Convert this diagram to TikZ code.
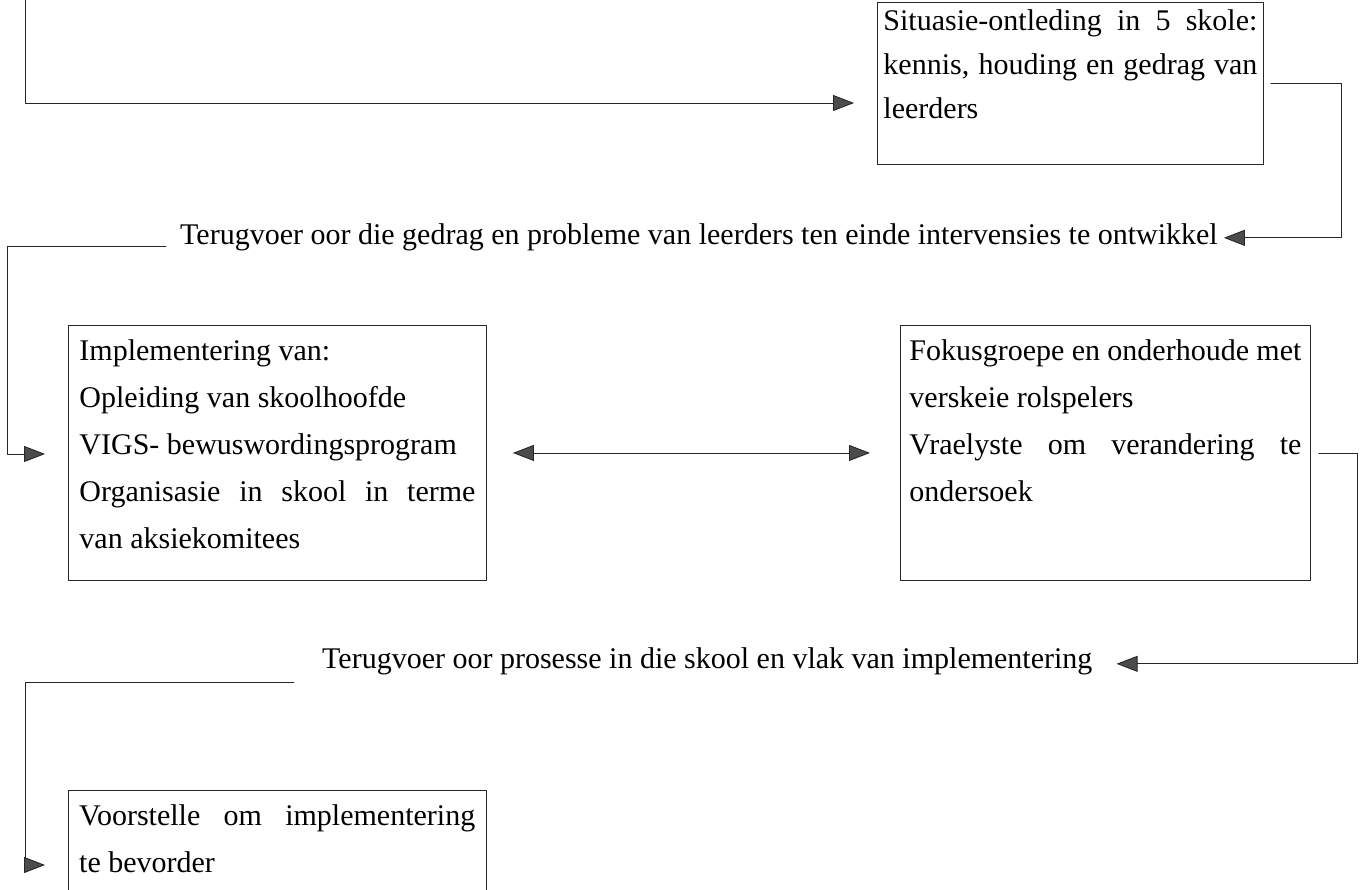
\documentclass[tikz,border=0pt]{standalone}
\usepackage{fontspec}
\setmainfont{Liberation Serif}
\usetikzlibrary{arrows.meta}
\newcommand{\jline}[1]{\makebox[\linewidth][s]{#1}}
\begin{document}
\begin{tikzpicture}[x=1pt, y=-1pt, line cap=round, line join=round, font=\fontsize{30}{47}\selectfont,
		>={Triangle[length=21pt, width=16pt, fill=black!70]}]
			\tikzset{box style/.style={draw=black!85, line width=0.9pt, anchor=north west, inner ysep=0pt},
				link style/.style={draw=black!85, line width=0.9pt, ->}}
			\useasboundingbox (0,0) rectangle (1363,890);
			% boxes
			\node[box style, inner xsep=6pt, font=\fontsize{30}{44}\selectfont] (sit) at (877,2)
				{\parbox[c][162pt][t]{374pt}{\rule{0pt}{28pt}\jline{Situasie-ontleding in 5 skole:}\\ \jline{kennis, houding en gedrag van}\\ leerders}};
			\node[box style, inner xsep=11pt] (imp) at (68,325)
				{\parbox[c][255pt][t]{396pt}{\rule{0pt}{35pt}Implementering van:\\ Opleiding van skoolhoofde\\ VIGS- bewuswordingsprogram\\ \jline{Organisasie in skool in terme}\\ van aksiekomitees}};
			\node[box style, inner xsep=9pt] (foc) at (900,325)
				{\parbox[c][255pt][t]{392pt}{\rule{0pt}{35pt}\jline{Fokusgroepe en onderhoude met}\\ verskeie rolspelers\\ \jline{Vraelyste om verandering te}\\ ondersoek}};
			\node[anchor=north west, inner xsep=11pt, inner ysep=0pt] (prop) at (68,790)
				{\parbox[c][100pt][t]{396pt}{\rule{0pt}{35pt}\jline{Voorstelle om implementering}\\ te bevorder}};
			\draw[draw=black!85, line width=0.9pt] (prop.south west) -- (prop.north west) -- (prop.north east) -- (prop.south east);
			% feedback lines
			\node[anchor=base west, inner sep=0pt] (fb1) at (180,245) {Terugvoer oor die gedrag en probleme van leerders ten einde intervensies te ontwikkel};
			\node[anchor=base west, inner sep=0pt] (fb2) at (322,668) {Terugvoer oor prosesse in die skool en vlak van implementering};
			% connectors
			\coordinate (start) at (25,0);
			\coordinate (sitin) at (854,103);
			\coordinate (impin) at (45,454);
			\coordinate (propin) at (45,865);
			\draw[link style] (start) |- (sitin);
			\draw[link style] ([xshift=7pt]sit.east) -- ++(71,0) |- ([xshift=6pt]fb1.east);
			\draw[link style] ([xshift=-14pt, yshift=-1pt]fb1.base west) -| ([xshift=-38pt]impin) -- (impin);
			\draw[link style, <->] ([xshift=26pt]imp.east) -- ([xshift=-30pt]foc.west);
			\draw[link style] ([xshift=8pt]foc.east) -- ++(39,0) |- ([xshift=24pt, yshift=-3pt]fb2.east);
			\draw[link style] ([xshift=-28pt, yshift=-14pt]fb2.base west) -| ([xshift=-20pt]propin) -- (propin);
	\end{tikzpicture}
\end{document}
